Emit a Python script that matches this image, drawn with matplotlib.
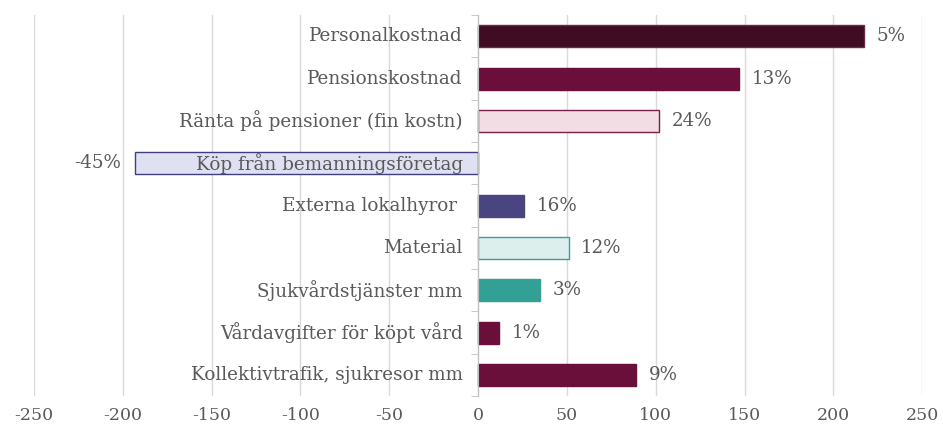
import matplotlib
matplotlib.use("Agg")
import matplotlib.pyplot as plt

categories = ["Personalkostnad", "Pensionskostnad", "Ränta på pensioner (fin kostn)",
              "Köp från bemanningsföretag", "Externa lokalhyror ", "Material",
              "Sjukvårdstjänster mm", "Vårdavgifter för köpt vård", "Kollektivtrafik, sjukresor mm"]
values = [217, 147, 102, -193, 26, 51, 35, 12, 89]
pct_labels = ["5%", "13%", "24%", "-45%", "16%", "12%", "3%", "1%", "9%"]
face_colors = ["#3f0c24", "#6a0f3a", "#f3dde5", "#e0e0f3", "#4a4580", "#dcefec", "#33a096", "#6a0f3a", "#6a0f3a"]
edge_colors = ["#6a2a48", "#6a0f3a", "#7a1f48", "#3f3f7f", "#4a4580", "#3aa096", "#33a096", "#6a0f3a", "#6a0f3a"]
xticks = [-250, -200, -150, -100, -50, 0, 50, 100, 150, 200, 250]

plt.rcParams['font.family'] = ['DejaVu Serif']
txt = "#595959"

fig = plt.figure(figsize=(9.43, 4.30), dpi=100)
ax = fig.add_axes([0.036, 0.079, 0.942, 0.886])

ypos = list(range(len(categories)))
ax.barh(ypos, values, height=0.52, color=face_colors, edgecolor=edge_colors, linewidth=1, zorder=3)

ax.set_xlim(-250, 250)
ax.set_ylim(8.5, -0.5)
ax.set_xticks(xticks)
ax.set_xticklabels([str(t) for t in xticks], color=txt, fontsize=12.5)
ax.tick_params(axis='x', length=0, pad=8)
ax.grid(axis='x', color="#d9d9d9", linewidth=1, zorder=0)

for s in ['top', 'right', 'bottom']:
    ax.spines[s].set_visible(False)
ax.spines['left'].set_position(('data', 0))
ax.spines['left'].set_color("#bfbfbf")
ax.spines['left'].set_zorder(4)
ax.set_yticks(ypos)
ax.set_yticklabels([])
ax.tick_params(axis='y', which='major', length=0)
ax.set_yticks([i - 0.5 for i in range(len(categories) + 1)], minor=True)
ax.tick_params(axis='y', which='minor', length=5, color="#bfbfbf", direction='out')

fs = 13.2
for i, (cat, v, p) in enumerate(zip(categories, values, pct_labels)):
    ax.annotate(cat, xy=(0, i), xytext=(-11, 0), textcoords='offset points',
                ha='right', va='center', color=txt, fontsize=fs, zorder=5)
    if v >= 0:
        ax.annotate(p, xy=(v, i), xytext=(9, 0), textcoords='offset points',
                    ha='left', va='center', color=txt, fontsize=fs)
    else:
        ax.annotate(p, xy=(v, i), xytext=(-10, 0), textcoords='offset points',
                    ha='right', va='center', color=txt, fontsize=fs)

fig.savefig("out.png", dpi=100)
